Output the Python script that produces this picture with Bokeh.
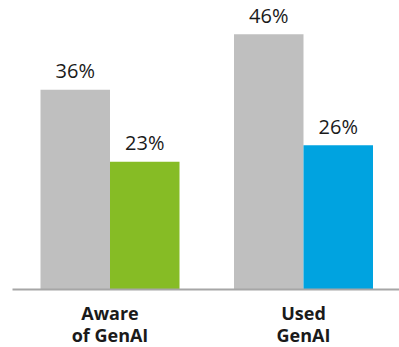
from bokeh.plotting import figure
from bokeh.models import Range1d
from bokeh.core.properties import value
from bokeh.embed import file_html
from bokeh.resources import INLINE

categories = ["Aware\nof GenAI", "Used\nGenAI"]
overall = [36, 46]
segment_vals = [23, 26]
segment_colors = ["#86bc25", "#00a3e0"]
gray = "#bfbfbf"

W, H = 399, 347
px_per_group = 193.5
x0 = -109.5 / px_per_group
px_per_pct = 5.55
y0 = -58 / px_per_pct

p = figure(width=W, height=H, output_backend="svg", toolbar_location=None,
           x_range=Range1d(x0, x0 + W / px_per_group),
           y_range=Range1d(y0, y0 + H / px_per_pct),
           min_border=0, outline_line_color=None)
p.axis.visible = False
p.grid.visible = False
p.background_fill_color = "white"
p.border_fill_color = "white"

bw = 69.5 / px_per_group
off = 34.75 / px_per_group
idx = list(range(len(categories)))
xl = [i - off for i in idx]
xr = [i + off for i in idx]

p.vbar(x=xl, top=overall, width=bw, bottom=0, fill_color=gray, line_color=None)
p.vbar(x=xr, top=segment_vals, width=bw, bottom=0, fill_color=segment_colors, line_color=None)

# baseline
xs = x0 + 12 / px_per_group
xe = x0 + W / px_per_group
p.segment(x0=[xs], y0=[0], x1=[xe], y1=[0], line_color="#a6a6a6", line_width=2)

font = value("Open Sans")
p.text(x=xl + xr, y=overall + segment_vals,
       text=[f"{v}%" for v in overall + segment_vals],
       text_font=font, text_font_size="20px", text_color="#1a1a1a",
       text_align="center", text_baseline="alphabetic", y_offset=-19)

lines = [c.split("\n") for c in categories]
p.text(x=idx, y=[0] * len(idx), text=[l[0] for l in lines],
       text_font=font, text_font_size="18px", text_font_style="bold",
       text_color="#1a1a1a", text_align="center", text_baseline="alphabetic", y_offset=23)
p.text(x=idx, y=[0] * len(idx), text=[l[1] for l in lines],
       text_font=font, text_font_size="18px", text_font_style="bold",
       text_color="#1a1a1a", text_align="center", text_baseline="alphabetic", y_offset=45)

open("out.html", "w").write(file_html(p, INLINE))
